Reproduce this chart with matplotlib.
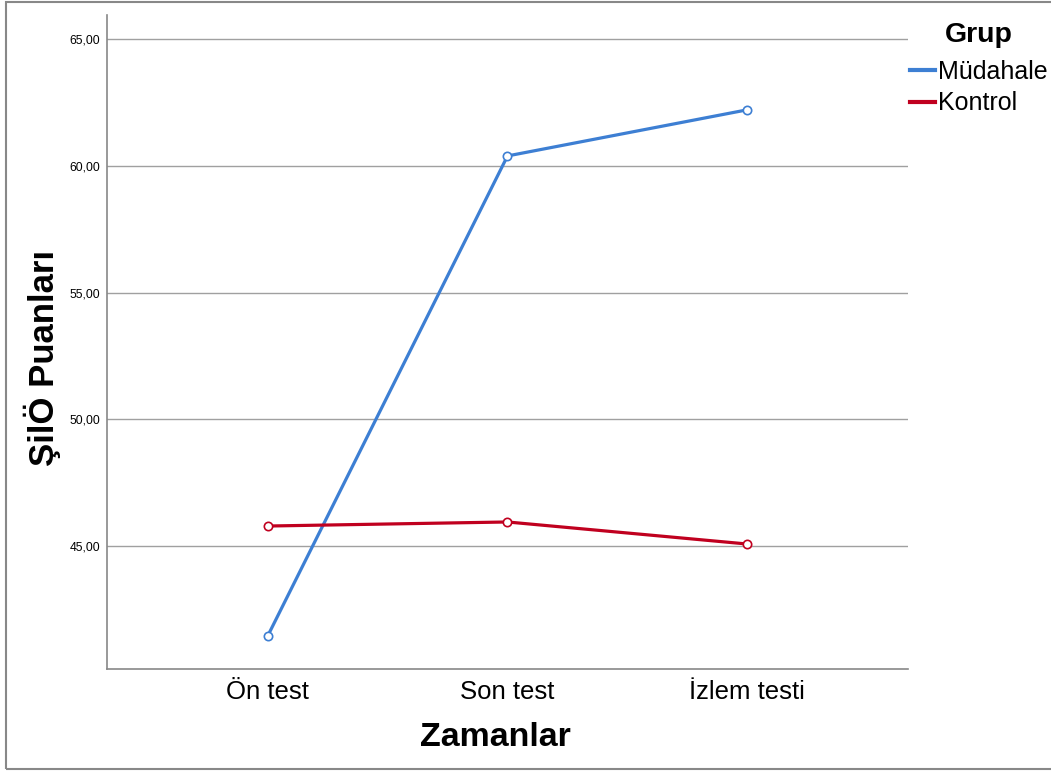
import matplotlib
matplotlib.use("Agg")
import matplotlib.pyplot as plt
from matplotlib.patches import Rectangle
from matplotlib.lines import Line2D

plt.rcParams['font.family'] = ['Liberation Sans', 'DejaVu Sans']

zamanlar = ["Ön test", "Son test", "İzlem testi"]
mudahale = [41.45, 60.39, 62.21]
kontrol = [45.79, 45.95, 45.08]
yticks = [45, 50, 55, 60, 65]
ytick_labels = ["45,00", "50,00", "55,00", "60,00", "65,00"]

blue = "#3d7fd3"
red = "#c0001f"

W, H = 1051, 771
fig = plt.figure(figsize=(W / 100, H / 100), dpi=100)
ax = fig.add_axes([107 / W, 1 - 669 / H, 801 / W, 654 / H])

x = range(len(zamanlar))
ax.plot(x, mudahale, color=blue, lw=2.3, marker="o", ms=6, mfc="white",
        mec=blue, mew=1.2, zorder=3)
ax.plot(x, kontrol, color=red, lw=2.3, marker="o", ms=6, mfc="white",
        mec=red, mew=1.2, zorder=3)

ax.set_xlim(-0.67, 2.67)
ax.set_ylim(40.15, 65.95)
ax.set_yticks(yticks)
ax.set_yticklabels(ytick_labels, fontsize=8.7)
ax.set_xticks(list(x))
ax.set_xticklabels(zamanlar, fontsize=18.5)
ax.tick_params(axis="y", length=0, pad=5)
ax.tick_params(axis="x", length=0, pad=8)
ax.grid(axis="y", color="#a0a0a0", lw=1)
ax.set_axisbelow(True)
for s in ["top", "right"]:
    ax.spines[s].set_visible(False)
for s in ["left", "bottom"]:
    ax.spines[s].set_color("#888888")
    ax.spines[s].set_linewidth(1.2)

ax.set_xlabel("Zamanlar", fontsize=24.5, fontweight="bold")
ax.xaxis.set_label_coords((495 - 107) / 801, -(738 - 669) / 654)
ax.xaxis.label.set_va("center")
ax.set_ylabel("ŞilÖ Puanları", fontsize=25, fontweight="bold")
ax.yaxis.set_label_coords(-(107 - 42) / 801, (669 - 358) / 654)
ax.yaxis.label.set_va("center")

handles = [Line2D([], [], color=blue, lw=3), Line2D([], [], color=red, lw=3)]
leg = fig.legend(handles, ["Müdahale", "Kontrol"],
                 loc="upper left", bbox_to_anchor=(910 / W, 1 - 60 / H),
                 frameon=False, fontsize=18, handlelength=1.0,
                 handletextpad=0.1, labelspacing=0.3, borderpad=0.0,
                 borderaxespad=0.0)
fig.text(979 / W, 1 - 35 / H, "Grup", fontsize=20.5, fontweight="bold",
         ha="center", va="center")

fig.patches.append(Rectangle((6 / W, 2 / H), 1.1, 767 / H, transform=fig.transFigure,
                             fill=False, edgecolor="#888888", lw=1.5))

fig.savefig("out.png", dpi=100)
